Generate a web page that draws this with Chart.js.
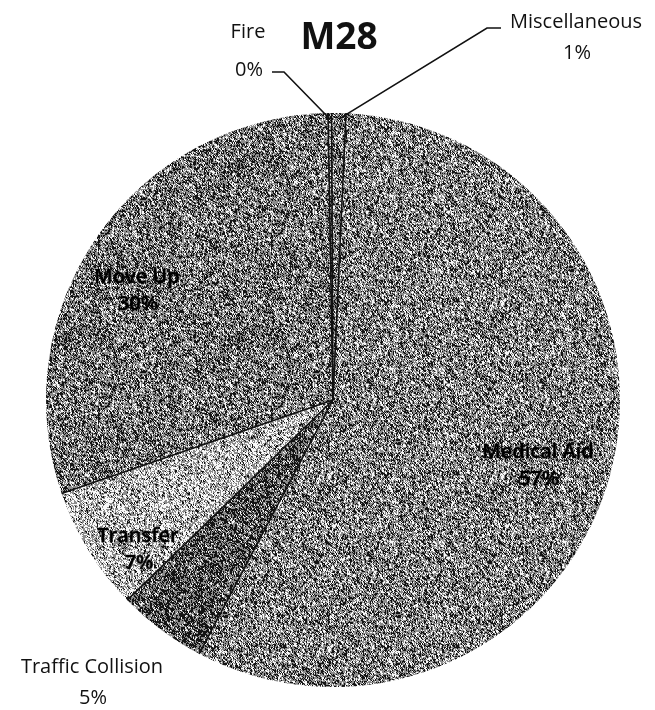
<!DOCTYPE html>
<html>
<head>
<meta charset="utf-8">
<script src="https://cdn.jsdelivr.net/npm/chart.js@4.4.0/dist/chart.umd.min.js"></script>
<style>
  html, body { margin: 0; padding: 0; background: #fff; }
  #wrap { width: 655px; height: 710px; }
</style>
</head>
<body>
<div id="wrap"><canvas id="pie"></canvas></div>
<script>
// data (percent of calls)
const categories = ['Fire', 'Miscellaneous', 'Medical Aid', 'Traffic Collision', 'Transfer', 'Move Up'];
const shares = [0.2, 0.8, 57, 5, 7, 30];
const chartTitle = 'M28';

// label placement (text centres), same order as categories
const labelPos = [
  [248, 32], [576, 22], [538, 452], [92, 667], [138, 536], [137, 277]
];
const outside = [true, true, false, true, false, false];
// black / grey share of the stipple per slice
const darkness = [0.4, 0.4, 0.38, 0.5, 0.24, 0.4];

// stipple texture like the photocopy
function grain(dark, seed) {
  const n = 173;
  const c = document.createElement('canvas');
  c.width = c.height = n;
  const g = c.getContext('2d');
  const img = g.createImageData(n, n);
  const hash = (x, y) => {
    let h = (Math.imul(x, 374761393) + Math.imul(y, 668265263) + Math.imul(seed, 982451653)) | 0;
    h = Math.imul(h ^ (h >>> 13), 1274126177);
    h = (h ^ (h >>> 16)) >>> 0;
    return h / 4294967296;
  };
  for (let y = 0; y < n; y++) {
    for (let x = 0; x < n; x++) {
      // mix with a neighbour so dots clump a little
      const r = 0.6 * hash(x, y) + 0.4 * hash((x + (y & 1)) % n, (y + 1) % n);
      const v = r < dark ? 20 : (r < dark + 0.3 ? 140 : 248);
      const i = (y * n + x) * 4;
      img.data[i] = img.data[i + 1] = img.data[i + 2] = v;
      img.data[i + 3] = 255;
    }
  }
  g.putImageData(img, 0, 0);
  return g.createPattern(c, 'repeat');
}

const total = shares.reduce((a, b) => a + b, 0);
const pctText = shares.map(v => Math.round(v / total * 100) + '%');

const decorations = {
  id: 'decorations',
  afterDatasetsDraw(chart) {
    const ctx = chart.ctx;
    const arcs = chart.getDatasetMeta(0).data;
    ctx.save();
    // slice separators
    ctx.strokeStyle = '#111';
    ctx.lineWidth = 1.6;
    arcs.forEach(a => {
      ctx.beginPath();
      ctx.moveTo(a.x, a.y);
      ctx.lineTo(a.x + Math.cos(a.startAngle) * a.outerRadius, a.y + Math.sin(a.startAngle) * a.outerRadius);
      ctx.stroke();
    });

    // leader lines for the two tiny slices
    const leaders = [[[272, 72], [284, 72]], [[501, 28], [487, 28]]];
    [0, 1].forEach((k, j) => {
      const a = arcs[k];
      const mid = (a.startAngle + a.endAngle) / 2;
      const ex = a.x + Math.cos(mid) * (a.outerRadius - 6);
      const ey = a.y + Math.sin(mid) * (a.outerRadius - 6);
      ctx.beginPath();
      ctx.moveTo(leaders[j][0][0], leaders[j][0][1]);
      ctx.lineTo(leaders[j][1][0], leaders[j][1][1]);
      ctx.lineTo(ex, ey);
      ctx.stroke();
    });

    // labels
    ctx.textAlign = 'center';
    ctx.textBaseline = 'middle';
    categories.forEach((name, i) => {
      const [x, y] = labelPos[i];
      const gap = outside[i] ? 31 : 27;
      if (outside[i]) {
        ctx.font = '20px "Open Sans", sans-serif';
        ctx.fillStyle = '#111';
      } else {
        ctx.font = '600 20px "Open Sans", sans-serif';
        ctx.fillStyle = '#000';
        ctx.strokeStyle = 'rgba(0,0,0,0.55)';
        ctx.lineWidth = 1;
        ctx.strokeText(name, x, y);
        ctx.strokeText(pctText[i], x + 1, y + gap);
      }
      ctx.fillText(name, x, y);
      ctx.fillText(pctText[i], x + 1, y + gap + (i === 0 ? 7 : 0));
    });

    // title
    ctx.font = 'bold 37px "Open Sans", sans-serif';
    ctx.fillStyle = '#111';
    ctx.fillText(chartTitle, 339, 38);
    ctx.restore();
  }
};

new Chart(document.getElementById('pie'), {
  type: 'pie',
  data: {
    labels: categories,
    datasets: [{
      data: shares,
      backgroundColor: darkness.map((d, i) => grain(d, i + 3)),
      borderWidth: 0
    }]
  },
  options: {
    responsive: true,
    maintainAspectRatio: false,
    animation: false,
    rotation: -1,
    layout: { padding: { top: 113, bottom: 23, left: 46, right: 35 } },
    plugins: {
      legend: { display: false },
      tooltip: { enabled: false },
      title: { display: false }
    }
  },
  plugins: [decorations]
});
</script>
</body>
</html>
